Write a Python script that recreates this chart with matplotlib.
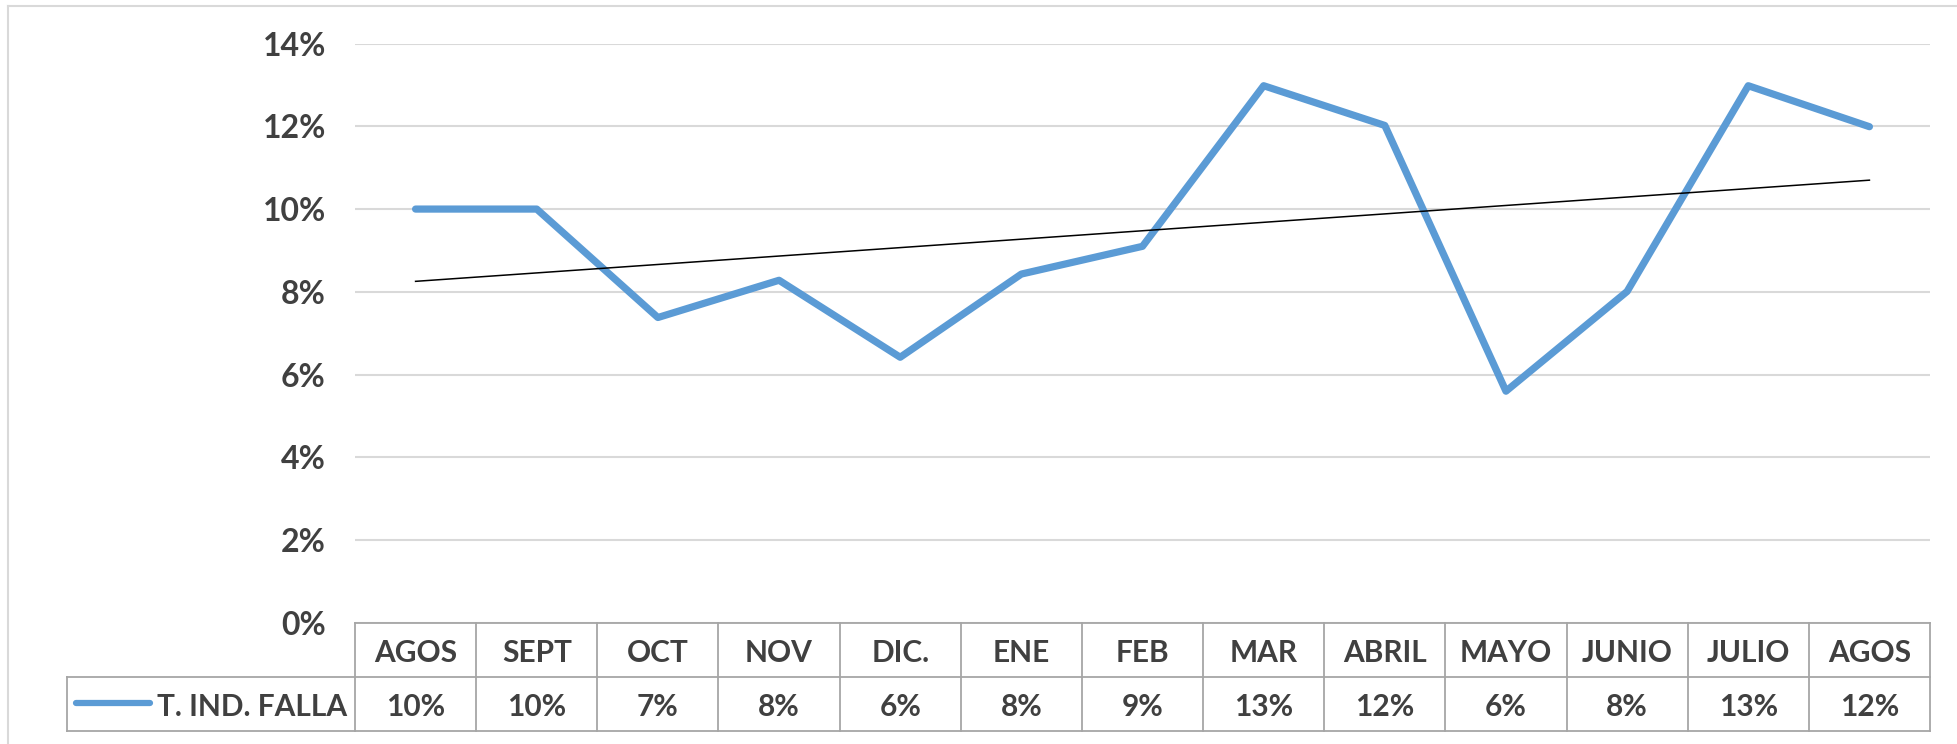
import numpy as np
import matplotlib.pyplot as plt
import matplotlib.transforms as mtransforms
from matplotlib.lines import Line2D
from matplotlib.ticker import PercentFormatter

# monthly failure index
months = ["AGOS", "SEPT", "OCT", "NOV", "DIC.", "ENE", "FEB",
          "MAR", "ABRIL", "MAYO", "JUNIO", "JULIO", "AGOS"]
falla = [0.1000, 0.1000, 0.0738, 0.0828, 0.0642, 0.0843, 0.0910,
         0.1298, 0.1202, 0.0560, 0.0801, 0.1298, 0.1199]
series_name = "T. IND. FALLA"
y_ticks = [0.00, 0.02, 0.04, 0.06, 0.08, 0.10, 0.12, 0.14]

W, H = 1957, 744
blue = "#5B9BD5"
txt = "#404040"
font = dict(family="Lato", weight="bold", size=21.5, color=txt)

fig = plt.figure(figsize=(W / 100, H / 100), dpi=100)
fig.patch.set_facecolor("white")

def fx(px):
    return px / W

def fy(py):
    return 1 - py / H

# plot area (pixel box 355..1930 x 43..623)
ax = fig.add_axes([fx(355), fy(623), fx(1930) - fx(355), fy(43.5) - fy(623)])
x = np.arange(len(months))

ax.plot(x, falla, color=blue, lw=5.2, solid_capstyle="round",
        solid_joinstyle="round", zorder=3)

# linear trend line
slope, intercept = np.polyfit(x, falla, 1)
ax.plot(x, intercept + slope * x, color="black", lw=1.1, zorder=4)

ax.set_xlim(-0.5, len(months) - 0.5)
ax.set_ylim(0, 0.14)
ax.set_yticks(y_ticks)
ax.yaxis.set_major_formatter(PercentFormatter(1.0, decimals=0))
ax.set_xticks([])
ax.grid(axis="y", color="#D9D9D9", lw=1.5)
ax.set_axisbelow(True)
for s in ax.spines.values():
    s.set_visible(False)
ax.tick_params(axis="y", length=0, pad=21)
for lab in ax.get_yticklabels():
    lab.set_fontfamily("Lato")
    lab.set_fontweight("bold")
    lab.set_fontsize(23)
    lab.set_color(txt)

# data table under the plot
tr = mtransforms.blended_transform_factory(ax.transData, fig.transFigure)
grid_c = "#A6A6A6"
top, mid, bot = fy(623), fy(677), fy(731)
x0, x1 = -0.5, len(months) - 0.5

fig.add_artist(Line2D([x0, x1], [top, top], transform=tr, color=grid_c, lw=1.3))
fig.add_artist(Line2D([x0, x1], [bot, bot], transform=tr, color=grid_c, lw=1.3))
fig.add_artist(Line2D([fx(67), fx(1930)], [mid, mid], color=grid_c, lw=1.3))
fig.add_artist(Line2D([fx(67), fx(355)], [bot, bot], color=grid_c, lw=1.3))
fig.add_artist(Line2D([fx(67), fx(67)], [mid, bot], color=grid_c, lw=1.3))
for b in np.arange(len(months) + 1) - 0.5:
    fig.add_artist(Line2D([b, b], [top, bot], transform=tr, color=grid_c, lw=1.3))

for i, (m, v) in enumerate(zip(months, falla)):
    fig.text(i, (top + mid) / 2, m, transform=tr, ha="center",
             va="center_baseline", **font)
    fig.text(i, (mid + bot) / 2, f"{v * 100:.0f}%", transform=tr,
             ha="center", va="center_baseline", **font)

# legend key inside the table
fig.add_artist(Line2D([fx(76), fx(150)], [fy(703), fy(703)], color=blue,
                      lw=4.5, solid_capstyle="round"))
fig.text(fx(347), (mid + bot) / 2, series_name, ha="right",
         va="center_baseline", **font)

# chart frame (top and left edges)
fig.add_artist(Line2D([fx(8), fx(W)], [fy(6), fy(6)], color="#D9D9D9", lw=1.5))
fig.add_artist(Line2D([fx(8), fx(8)], [fy(6), 0], color="#D9D9D9", lw=1.5))

fig.savefig("out.png", dpi=100)
